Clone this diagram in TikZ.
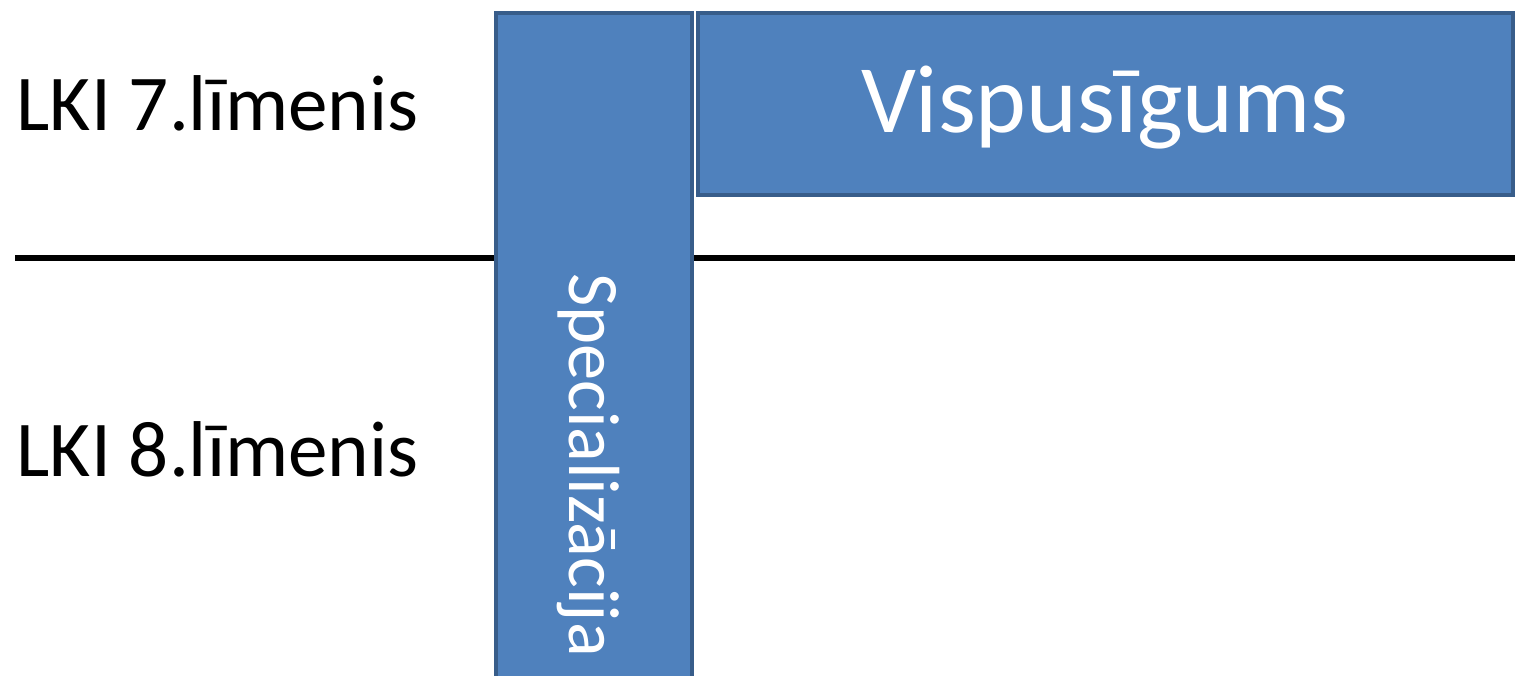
\documentclass[tikz,border=0pt]{standalone}
\usepackage{fontspec}
\setmainfont{Carlito}
\definecolor{barfill}{HTML}{4F81BD}
\definecolor{barline}{HTML}{385D8A}
\begin{document}
\begin{tikzpicture}[x=0.01cm,y=-0.01cm,
  bar/.style={fill=barfill,draw=barline,line width=0.04cm},
  lvl/.style={anchor=base west,inner sep=0pt,font=\fontsize{22.5}{27}\selectfont}]
\useasboundingbox (0,0) rectangle (1515,676);
\node[lvl] (l7) at (16,131) {LKI 7.līmenis};
\node[lvl] (l8) at (16,476) {LKI 8.līmenis};
\coordinate (ls) at (15,258);
\coordinate (le) at (1515,258);
\draw[line width=0.05cm] (ls) -- (le);
\draw[bar] (496,13) rectangle (692,690);
\draw[bar] (698,13) rectangle (1513,195);
\node[white,inner sep=0pt,font=\fontsize{27.5}{32}\selectfont] (v) at (1105,108) {Vispusīgums};
\node[white,inner sep=0pt,rotate=-90,anchor=base,font=\fontsize{20.6}{25}\selectfont] (s) at (569,465) {Specializācija};
\end{tikzpicture}
\end{document}
